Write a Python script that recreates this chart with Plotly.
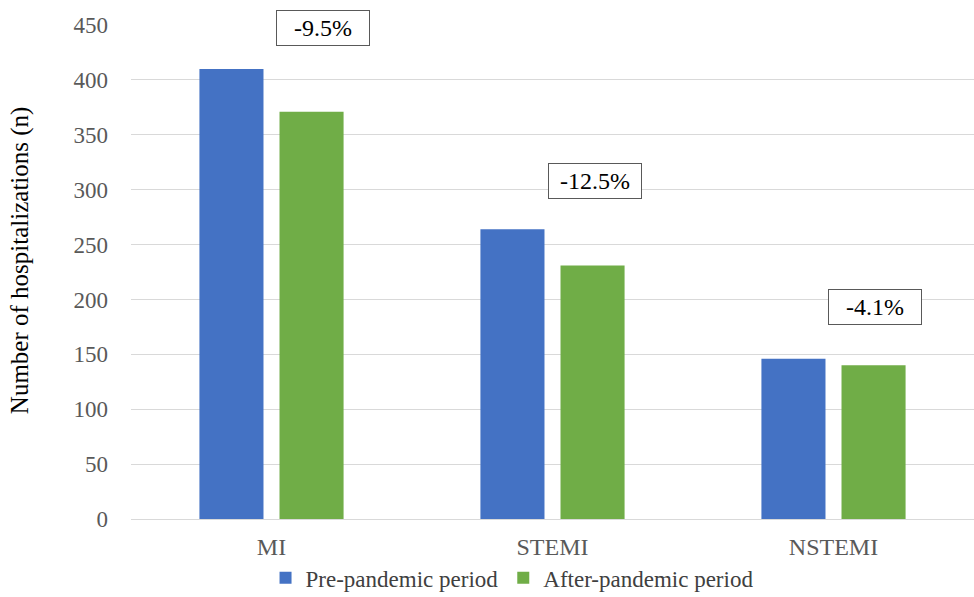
import plotly.graph_objects as go

categories = ["MI", "STEMI", "NSTEMI"]
pre_values = [410, 264, 146]
after_values = [371, 231, 140]
changes = ["-9.5%", "-12.5%", "-4.1%"]
change_y = [447, 308, 193]
change_shift = [51, 42, 41]
y_ticks = [0, 50, 100, 150, 200, 250, 300, 350, 400, 450]
y_title = "Number of hospitalizations (n)"

FONT = "Liberation Serif, Times New Roman, serif"

fig = go.Figure()
fig.add_trace(go.Bar(name="Pre-pandemic period", x=categories, y=pre_values,
                     marker=dict(color="#4472C4", line=dict(width=0))))
fig.add_trace(go.Bar(name="After-pandemic period", x=categories, y=after_values,
                     marker=dict(color="#70AD47", line=dict(width=0))))

for c, t, yv, xs in zip(categories, changes, change_y, change_shift):
    fig.add_annotation(x=c, y=yv, xref="x", yref="y", xshift=xs,
                       text=t, showarrow=False,
                       font=dict(family=FONT, size=24, color="#000000"),
                       bordercolor="#595959", borderwidth=1, borderpad=4,
                       bgcolor="white", width=84)

# y-axis title (placed slightly above plot centre as in the reference)
fig.add_annotation(xref="paper", yref="paper", x=0, y=0.524, xshift=-111,
                   text=y_title, textangle=-90, showarrow=False,
                   xanchor="center", yanchor="middle",
                   font=dict(family=FONT, size=25, color="#000000"))

fig.update_layout(
    width=974, height=597,
    margin=dict(l=131, r=0, t=25, b=78),
    paper_bgcolor="white", plot_bgcolor="white",
    barmode="group", bargap=0.43, bargroupgap=0.2,
    font=dict(family=FONT, size=23, color="#404040"),
    legend=dict(orientation="h", x=0.452, xanchor="center",
                yref="container", y=0.068, yanchor="top",
                font=dict(family=FONT, size=23, color="#404040"),
                itemsizing="constant", traceorder="normal", itemwidth=30,
                tracegroupgap=0),
    showlegend=True,
)
fig.update_yaxes(range=[0, 450], tickvals=y_ticks, showgrid=True, gridcolor="#D9D9D9",
                 gridwidth=1, zeroline=False, showline=False, ticks="",
                 automargin=False, ticklabelstandoff=22,
                 tickfont=dict(family=FONT, size=23, color="#595959"))
fig.update_xaxes(showline=True, linecolor="#D9D9D9", linewidth=1, ticks="",
                 automargin=False,
                 tickfont=dict(family=FONT, size=24, color="#595959"),
                 ticklabelstandoff=6)

fig.write_html("out.html", config={"displayModeBar": False},
               post_script="document.body.style.margin='0';document.body.style.overflow='hidden';")
